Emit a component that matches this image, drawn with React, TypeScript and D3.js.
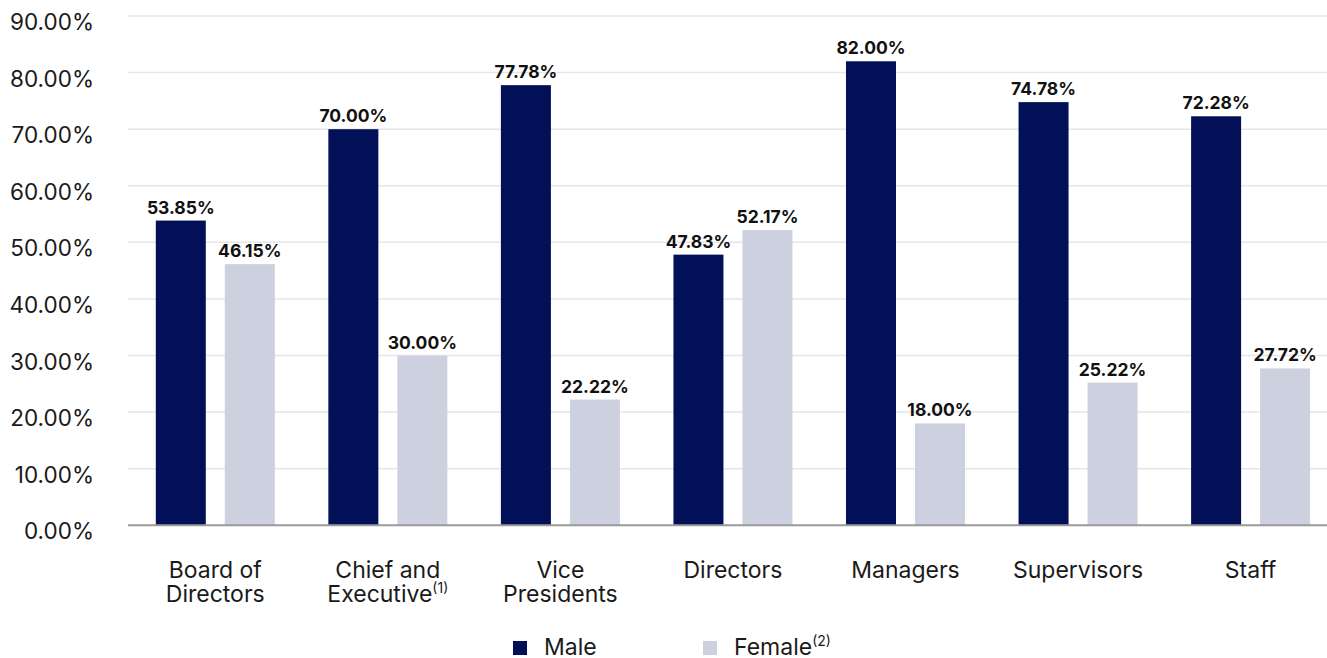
import React from "react";
import * as d3 from "d3";

const categories: string[][] = [
  ["Board of", "Directors"],
  ["Chief and", "Executive"],
  ["Vice", "Presidents"],
  ["Directors"],
  ["Managers"],
  ["Supervisors"],
  ["Staff"],
];
const categorySup: string[] = ["", "(1)", "", "", "", "", ""];
const maleValues: number[] = [53.85, 70.0, 77.78, 47.83, 82.0, 74.78, 72.28];
const femaleValues: number[] = [46.15, 30.0, 22.22, 52.17, 18.0, 25.22, 27.72];
const yTicks: number[] = [0, 10, 20, 30, 40, 50, 60, 70, 80, 90];
const seriesNames: string[] = ["Male", "Female"];
const seriesSup: string[] = ["", "(2)"];
const seriesColors: string[] = ["#021157", "#CDD1DF"];

const W = 1327;
const H = 658;
const FONT = "Inter, 'Noto Sans', sans-serif";

export default function App() {
  const keys = categories.map((_, i) => String(i));
  const x = d3.scaleBand<string>().domain(keys).range([129, 129 + 7 * 172.55]).paddingInner(0).paddingOuter(0);
  const y = d3.scaleLinear().domain([0, 90]).range([525.3, 16]);
  const inner = d3
    .scaleBand<string>()
    .domain(["0", "1"])
    .range([26.8, 26.8 + 119])
    .paddingInner(19 / 69)
    .paddingOuter(0);
  const series = [maleValues, femaleValues];

  return (
    <svg width={W} height={H} style={{ position: "absolute", left: 0, top: 0, background: "#fff" }}>
      <rect width={W} height={H} fill="#fff" />
      {yTicks.map((t) => (
        <g key={t}>
          {t > 0 && <line x1={128} x2={W} y1={y(t)} y2={y(t)} stroke="#e6e6e6" strokeWidth={1.5} />}
          <text x={94} y={y(t) + 8} textAnchor="end" dominantBaseline="middle" fontFamily={FONT} fontSize={22.5} fill="#1a1a1a">
            {t.toFixed(2) + "%"}
          </text>
        </g>
      ))}
      {keys.map((k, ci) => (
        <g key={k}>
          {series.map((vals, si) => {
            const bx = (x(k) as number) + (inner(String(si)) as number);
            const bw = inner.bandwidth();
            const v = vals[ci];
            return (
              <g key={si}>
                <rect x={bx} y={y(v)} width={bw} height={y(0) - y(v)} fill={seriesColors[si]} />
                <text x={bx + bw / 2} y={y(v) - 7} textAnchor="middle" fontFamily={FONT} fontSize={17.5} fontWeight={700} fill="#111">
                  {v.toFixed(2) + "%"}
                </text>
              </g>
            );
          })}
          <text x={(x(k) as number) + x.bandwidth() / 2} y={577.5} textAnchor="middle" fontFamily={FONT} fontSize={23} fill="#1a1a1a">
            {categories[ci].map((line, li) => (
              <tspan key={li} x={(x(k) as number) + x.bandwidth() / 2} dy={li === 0 ? 0 : 24}>
                {line}
                {li === categories[ci].length - 1 && categorySup[ci] ? (
                  <tspan fontSize={14} dy={-9}>{categorySup[ci]}</tspan>
                ) : null}
              </tspan>
            ))}
          </text>
        </g>
      ))}
      <line x1={128} x2={W} y1={y(0)} y2={y(0)} stroke="#9a9a9a" strokeWidth={2} />
      {seriesNames.map((name, i) => {
        const lx = [513, 703][i];
        return (
          <g key={name}>
            <rect x={lx} y={641} width={14} height={14} fill={seriesColors[i]} />
            <text x={lx + 31} y={655} fontFamily={FONT} fontSize={23} fill="#1a1a1a">
              {name}
              {seriesSup[i] ? <tspan fontSize={14} dy={-9}>{seriesSup[i]}</tspan> : null}
            </text>
          </g>
        );
      })}
    </svg>
  );
}
